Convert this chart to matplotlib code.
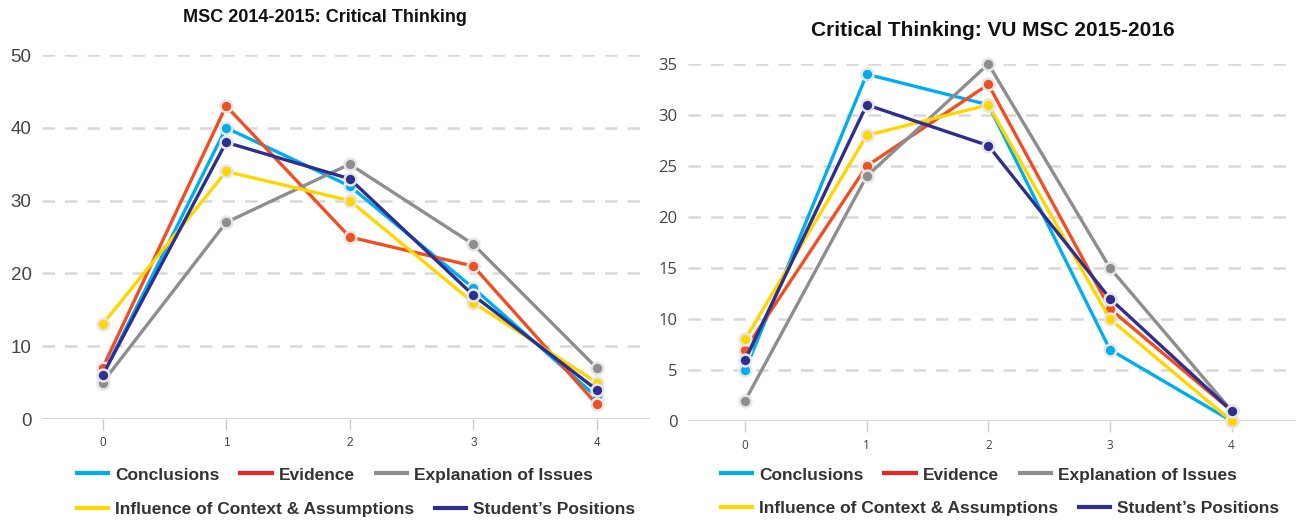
import matplotlib
matplotlib.use("Agg")
import matplotlib.pyplot as plt
from matplotlib.lines import Line2D

plt.rcParams['font.family'] = ['Liberation Sans', 'DejaVu Sans']

levels = [0, 1, 2, 3, 4]
series_names = ["Conclusions", "Evidence", "Explanation of Issues",
                "Influence of Context & Assumptions", "Student\u2019s Positions"]
series_colors = ["#00AEEF", "#F04E23", "#8E8E8E", "#FFD600", "#2E2E8F"]
legend_colors = ["#00AEEF", "#EE2424", "#8E8E8E", "#FFD600", "#2E2E8F"]

# MSC 2014-2015
left_title = "MSC 2014-2015: Critical Thinking"
left_conclusions = [6, 40, 32, 18, 3]
left_evidence = [7, 43, 25, 21, 2]
left_explanation = [5, 27, 35, 24, 7]
left_influence = [13, 34, 30, 16, 5]
left_positions = [6, 38, 33, 17, 4]
left_yticks = [0, 10, 20, 30, 40, 50]

# VU MSC 2015-2016
right_title = "Critical Thinking: VU MSC 2015-2016"
right_conclusions = [5, 34, 31, 7, 0]
right_evidence = [7, 25, 33, 11, 1]
right_explanation = [2, 24, 35, 15, 1]
right_influence = [8, 28, 31, 10, 0]
right_positions = [6, 31, 27, 12, 1]
right_yticks = [0, 5, 10, 15, 20, 25, 30, 35]

W, H = 1296, 520
fig = plt.figure(figsize=(W / 100, H / 100), dpi=100)


def make_panel(rect, title, title_xy, title_size, data, yticks, xlim, legend_x, row_ys,
               tick_font, ytick_size, xtick_size):
    ax = fig.add_axes(rect)
    for vals, col in zip(data, series_colors):
        ax.plot(levels, vals, color=col, lw=2.4, marker='o', ms=8.5,
                markerfacecolor=col, markeredgecolor='#e6e6e6', markeredgewidth=1.8,
                clip_on=False, zorder=3)
    ax.set_xlim(*xlim)
    ax.set_ylim(yticks[0], yticks[-1])
    ax.set_yticks(yticks)
    ax.set_xticks(levels)
    for y in yticks[1:]:
        ax.axhline(y, color='#d8d8d8', lw=1.8, ls=(0, (5, 4)), zorder=1)
    ax.axhline(0, color='#cccccc', lw=1.8, zorder=2)
    for s in ax.spines.values():
        s.set_visible(False)
    ax.tick_params(axis='y', length=0, labelsize=ytick_size, labelcolor='#444444', pad=7.5)
    ax.tick_params(axis='x', length=8, width=1, color='#cccccc', labelsize=xtick_size,
                   labelcolor='#444444', pad=5)
    for lab in ax.get_xticklabels() + ax.get_yticklabels():
        lab.set_family(tick_font)
    fig.text(title_xy[0], title_xy[1], title, ha='center', va='center',
             fontsize=title_size, fontweight='bold', color='#111111')
    handles = [Line2D([0], [0], color=c, lw=3) for c in legend_colors]
    kw = dict(loc='center left', frameon=False, prop={'size': 12.5, 'weight': 'bold'},
              handlelength=1.8, handletextpad=0.4, columnspacing=1.2,
              borderaxespad=0, borderpad=0)
    l1 = fig.legend(handles[:3], series_names[:3], bbox_to_anchor=(legend_x, row_ys[0]),
                    ncol=3, **kw)
    l2 = fig.legend(handles[3:], series_names[3:], bbox_to_anchor=(legend_x, row_ys[1]),
                    ncol=2, **kw)
    for lg in (l1, l2):
        for t in lg.get_texts():
            t.set_color('#333333')
    return ax


make_panel([42 / W, 1 - 419 / H, (650 - 42) / W, (419 - 55) / H], left_title,
           (325 / W, 1 - 18 / H), 13,
           [left_conclusions, left_evidence, left_explanation, left_influence, left_positions],
           left_yticks, (-0.49, 4.43), 77 / W, (1 - 475 / H, 1 - 509 / H),
           ['Liberation Sans', 'DejaVu Sans'], 13.5, 8.5)

make_panel([688 / W, 1 - 421 / H, (1296 - 688) / W, (421 - 64) / H], right_title,
           (993 / W, 1 - 30 / H), 15,
           [right_conclusions, right_evidence, right_explanation, right_influence, right_positions],
           right_yticks, (-0.47, 4.53), 721 / W, (1 - 475 / H, 1 - 508 / H),
           ['Open Sans', 'DejaVu Sans'], 12, 8.5)

fig.savefig("out.png", dpi=100, facecolor='white')
